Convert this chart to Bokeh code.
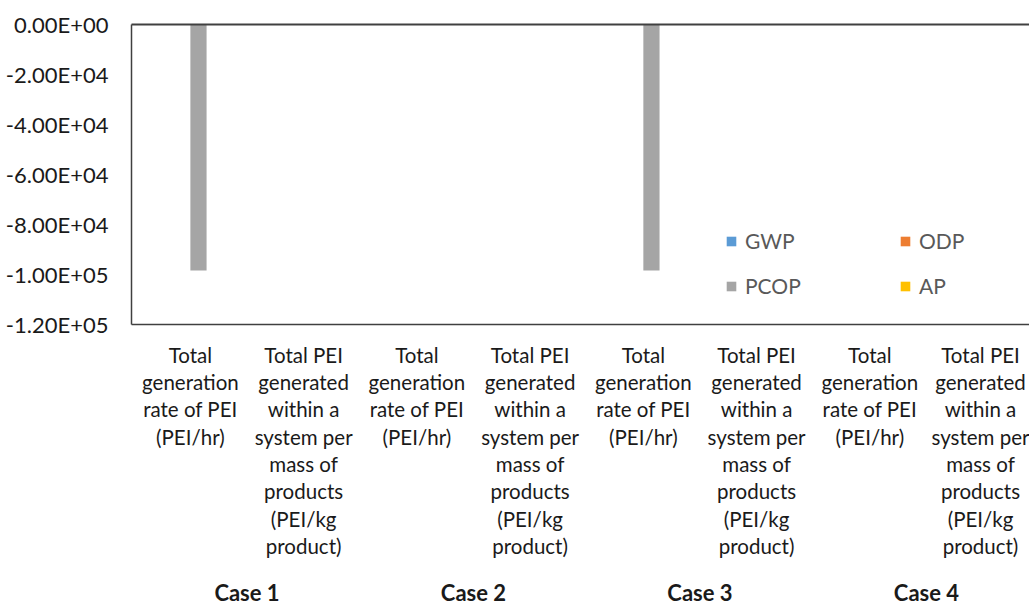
from bokeh.plotting import figure
from bokeh.models import (ColumnDataSource, Range1d, FixedTicker, LinearAxis,
                          CustomJSTickFormatter, Legend, LegendItem)
from bokeh.transform import dodge
from bokeh.embed import file_html
from bokeh.resources import INLINE

# ---------------- data ----------------
category_labels = [
    "Total\ngeneration\nrate of PEI\n(PEI/hr)",
    "Total PEI\ngenerated\nwithin a\nsystem per\nmass of\nproducts\n(PEI/kg\nproduct)",
    "Total\ngeneration\nrate of PEI\n(PEI/hr)",
    "Total PEI\ngenerated\nwithin a\nsystem per\nmass of\nproducts\n(PEI/kg\nproduct)",
    "Total\ngeneration\nrate of PEI\n(PEI/hr)",
    "Total PEI\ngenerated\nwithin a\nsystem per\nmass of\nproducts\n(PEI/kg\nproduct)",
    "Total\ngeneration\nrate of PEI\n(PEI/hr)",
    "Total PEI\ngenerated\nwithin a\nsystem per\nmass of\nproducts\n(PEI/kg\nproduct)",
]
cases = ["Case 1", "Case 2", "Case 3", "Case 4"]
series_names = ["GWP", "ODP", "PCOP", "AP"]
gwp = [0, 0, 0, 0, 0, 0, 0, 0]
odp = [0, 0, 0, 0, 0, 0, 0, 0]
pcop = [-98400, 0, 0, 0, -98400, 0, 0, 0]
ap = [0, 0, 0, 0, 0, 0, 0, 0]
y_ticks = [0, -20000, -40000, -60000, -80000, -100000, -120000]

colors = ["#5B9BD5", "#ED7D31", "#A5A5A5", "#FFC000"]
FONT = "Lato"

x_pos = [i + 0.5 for i in range(len(category_labels))]
src = ColumnDataSource(dict(x=x_pos, GWP=gwp, ODP=odp, PCOP=pcop, AP=ap))

W, H = 1029, 610
p = figure(width=W, height=H, output_backend="svg", toolbar_location=None,
           x_range=Range1d(-0.02, 7.91), y_range=Range1d(-120000, 0),
           x_axis_location=None, y_axis_location=None,
           min_border_left=131, min_border_right=0, min_border_top=24,
           min_border_bottom=286)
p.grid.visible = False
p.outline_line_color = None
p.background_fill_color = "white"

bw = 0.143
renderers = []
for i, (name, col) in enumerate(zip(series_names, colors)):
    r = p.vbar(x=dodge("x", (i - 1.5) * bw, range=p.x_range), top=name, bottom=0,
               width=bw, source=src, fill_color=col, line_color=None)
    renderers.append(r)

# y axis
yaxis = LinearAxis(ticker=FixedTicker(ticks=y_ticks),
                   formatter=CustomJSTickFormatter(code="""
const v = tick;
if (v == 0) return "0.00E+00";
const e = Math.floor(Math.log10(Math.abs(v)) + 1e-9);
const m = v / Math.pow(10, e);
return m.toFixed(2) + "E" + (e >= 0 ? "+" : "-") + String(Math.abs(e)).padStart(2, "0");
"""),
                   major_tick_line_color=None, minor_tick_line_color=None,
                   major_tick_out=0, minor_tick_out=0,
                   axis_line_color="#404040", axis_line_width=1.5,
                   major_label_text_font=FONT, major_label_text_font_size="22px",
                   major_label_text_color="#1a1a1a", major_label_standoff=23)
p.add_layout(yaxis, "left")

# zero line on top
top_axis = LinearAxis(ticker=FixedTicker(ticks=[]), major_label_text_font_size="0px",
                      axis_line_color="#404040", axis_line_width=2,
                      major_tick_line_color=None, minor_tick_line_color=None,
                      major_tick_out=0, minor_tick_out=0)
p.add_layout(top_axis, "above")

# category axis
xaxis = LinearAxis(ticker=FixedTicker(ticks=x_pos),
                   formatter=CustomJSTickFormatter(args=dict(labels=category_labels),
                                                   code="return labels[Math.round(tick - 0.5)];"),
                   major_tick_line_color=None, minor_tick_line_color=None,
                   major_tick_out=0, minor_tick_out=0,
                   axis_line_color="#404040", axis_line_width=1.5,
                   major_label_text_font=FONT, major_label_text_font_size="20.5px",
                   major_label_text_color="#1a1a1a", major_label_text_line_height=1.14,
                   major_label_standoff=18)
p.add_layout(xaxis, "below")

case_pos = [1, 3, 5, 7]
case_axis = LinearAxis(ticker=FixedTicker(ticks=case_pos),
                       formatter=CustomJSTickFormatter(args=dict(labels=cases),
                                                       code="return labels[Math.round((tick - 1) / 2)];"),
                       major_tick_line_color=None, minor_tick_line_color=None,
                       major_tick_out=0, minor_tick_out=0, axis_line_color=None,
                       major_label_text_font=FONT, major_label_text_font_size="22px",
                       major_label_text_font_style="bold",
                       major_label_text_color="#1a1a1a", major_label_standoff=17)
p.add_layout(case_axis, "below")

order = [0, 2, 1, 3]  # column-major fill -> rows: GWP/ODP, PCOP/AP
legend = Legend(items=[LegendItem(label=series_names[k], renderers=[renderers[k]]) for k in order],
                ncols=2, location=(594, 26), padding=0, margin=0,
                border_line_color=None, background_fill_alpha=0,
                glyph_width=12, glyph_height=12, label_standoff=8,
                label_width=134, label_height=21, spacing=20,
                label_text_font=FONT, label_text_font_size="21px",
                label_text_color="#595959")
p.add_layout(legend, "center")

open("out.html", "w").write(file_html(p, INLINE))
